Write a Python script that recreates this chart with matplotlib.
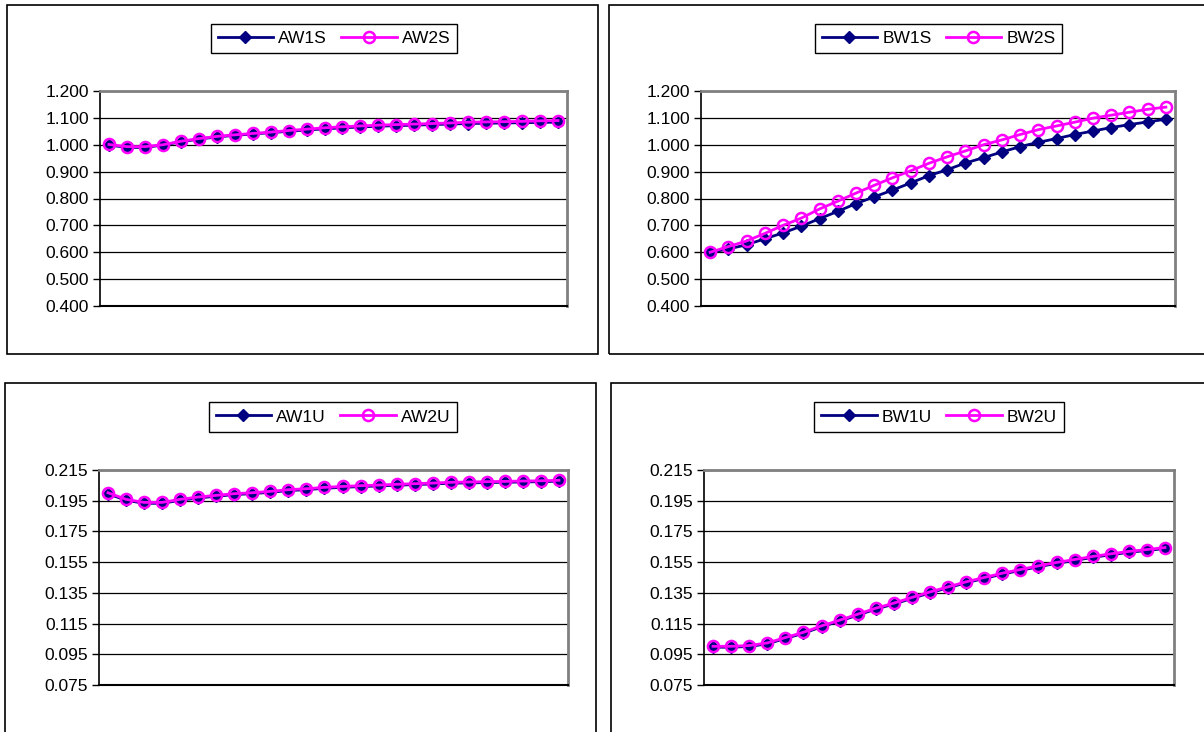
import matplotlib.pyplot as plt
from matplotlib.patches import Rectangle
from matplotlib.ticker import FormatStrFormatter

plt.rcParams['font.family'] = ['Liberation Sans', 'DejaVu Sans']

W, H = 1204, 732
n_points = 26

s_ticks = [0.4, 0.5, 0.6, 0.7, 0.8, 0.9, 1.0, 1.1, 1.2]
u_ticks = [0.075, 0.095, 0.115, 0.135, 0.155, 0.175, 0.195, 0.215]

aw1s = [0.999, 0.990, 0.990, 0.999, 1.011, 1.021, 1.029, 1.035, 1.040, 1.045,
        1.050, 1.055, 1.059, 1.063, 1.066, 1.069, 1.071, 1.073, 1.075, 1.077,
        1.079, 1.080, 1.081, 1.082, 1.083, 1.084]
aw2s = [1.001, 0.993, 0.993, 1.000, 1.013, 1.023, 1.031, 1.037, 1.042, 1.047,
        1.053, 1.058, 1.063, 1.067, 1.070, 1.073, 1.075, 1.077, 1.079, 1.081,
        1.084, 1.085, 1.086, 1.087, 1.089, 1.090]
bw1s = [0.600, 0.612, 0.628, 0.650, 0.672, 0.697, 0.725, 0.752, 0.781, 0.806,
        0.831, 0.858, 0.885, 0.907, 0.932, 0.952, 0.973, 0.993, 1.009, 1.023,
        1.038, 1.051, 1.064, 1.075, 1.085, 1.095]
bw2s = [0.600, 0.621, 0.642, 0.670, 0.700, 0.727, 0.761, 0.790, 0.820, 0.849,
        0.877, 0.903, 0.931, 0.955, 0.977, 1.000, 1.018, 1.038, 1.056, 1.070,
        1.084, 1.099, 1.110, 1.121, 1.132, 1.140]
aw1u = [0.1995, 0.1953, 0.1933, 0.1933, 0.1953, 0.1968, 0.1979, 0.1990, 0.1996, 0.2005,
        0.2016, 0.2022, 0.2031, 0.2037, 0.2042, 0.2046, 0.2051, 0.2055, 0.2059, 0.2064,
        0.2066, 0.2068, 0.2070, 0.2072, 0.2074, 0.2077]
aw2u = [0.2002, 0.1959, 0.1939, 0.1939, 0.1959, 0.1974, 0.1985, 0.1996, 0.2002, 0.2011,
        0.2022, 0.2028, 0.2037, 0.2043, 0.2048, 0.2052, 0.2057, 0.2061, 0.2065, 0.2070,
        0.2072, 0.2074, 0.2076, 0.2078, 0.2080, 0.2083]
bw1u = [0.0996, 0.0996, 0.1001, 0.1018, 0.1053, 0.1087, 0.1129, 0.1166, 0.1205, 0.1244,
        0.1277, 0.1314, 0.1350, 0.1383, 0.1416, 0.1444, 0.1472, 0.1496, 0.1520, 0.1542,
        0.1561, 0.1581, 0.1598, 0.1614, 0.1626, 0.1639]
bw2u = [0.1002, 0.1002, 0.1007, 0.1024, 0.1059, 0.1093, 0.1135, 0.1172, 0.1211, 0.1250,
        0.1283, 0.1320, 0.1356, 0.1389, 0.1422, 0.1450, 0.1478, 0.1502, 0.1526, 0.1548,
        0.1567, 0.1587, 0.1604, 0.1620, 0.1632, 0.1645]

# (series1, series2, labels, yticks, frame px, plot px, legend px)
panels = [
    (aw1s, aw2s, ('AW1S', 'AW2S'), s_ticks,
     (7, 5, 598, 354), (100, 91, 567, 306), (213, 23, 455, 54)),
    (bw1s, bw2s, ('BW1S', 'BW2S'), s_ticks,
     (609, 5, 1210, 354), (701, 91, 1175, 306), (818, 23, 1059, 54)),
    (aw1u, aw2u, ('AW1U', 'AW2U'), u_ticks,
     (5, 383, 596, 740), (99, 470, 568, 685), (211, 402, 455, 432)),
    (bw1u, bw2u, ('BW1U', 'BW2U'), u_ticks,
     (611, 383, 1210, 740), (704, 470, 1174, 685), (818, 402, 1060, 432)),
]


def px_box(l, t, r, b):
    return [l / W, 1 - b / H, (r - l) / W, (b - t) / H]


fig = plt.figure(figsize=(W / 100, H / 100), dpi=100)

x = list(range(n_points))
for s1, s2, labels, yticks, frame, plot_px, leg_px in panels:
    # chart frame
    fx, fy, fw, fh = px_box(*frame)
    fig.patches.append(Rectangle((fx, fy), fw, fh, transform=fig.transFigure,
                                 fill=False, edgecolor='black', linewidth=1.2))

    ax = fig.add_axes(px_box(*plot_px))
    ax.plot(x, s1, '-', color='#000080', linewidth=2, marker='D',
            markersize=6.5, markerfacecolor='#000080',
            markeredgecolor='#000080', label=labels[0])
    ax.plot(x, s2, '-', color='#FF00FF', linewidth=2, marker='o',
            markersize=8, markerfacecolor='none', markeredgewidth=1.8,
            markeredgecolor='#FF00FF', label=labels[1])

    ax.set_xlim(-0.5, n_points - 0.5)
    ax.set_ylim(yticks[0], yticks[-1])
    ax.set_yticks(yticks)
    ax.yaxis.set_major_formatter(FormatStrFormatter('%.3f'))
    ax.set_xticks([])
    ax.tick_params(axis='y', direction='out', length=5, width=1,
                   labelsize=12.5, pad=3)
    ax.grid(axis='y', color='black', linewidth=0.9)
    ax.set_axisbelow(True)
    for side in ('top', 'right'):
        ax.spines[side].set_color('#808080')
        ax.spines[side].set_linewidth(2)
    ax.spines['left'].set_linewidth(1.2)
    ax.spines['bottom'].set_linewidth(1.5)

    lx, ly, lw, lh = px_box(*leg_px)
    leg = ax.legend(loc='center', bbox_to_anchor=(lx + lw / 2, ly + lh / 2),
                    bbox_transform=fig.transFigure, ncol=2, fontsize=12.5,
                    frameon=True, fancybox=False, framealpha=1,
                    edgecolor='black', handlelength=3.2, handletextpad=0.3,
                    columnspacing=0.8, borderpad=0.4, borderaxespad=0)
    leg.get_frame().set_linewidth(1)

plt.savefig('out.png', dpi=100)
